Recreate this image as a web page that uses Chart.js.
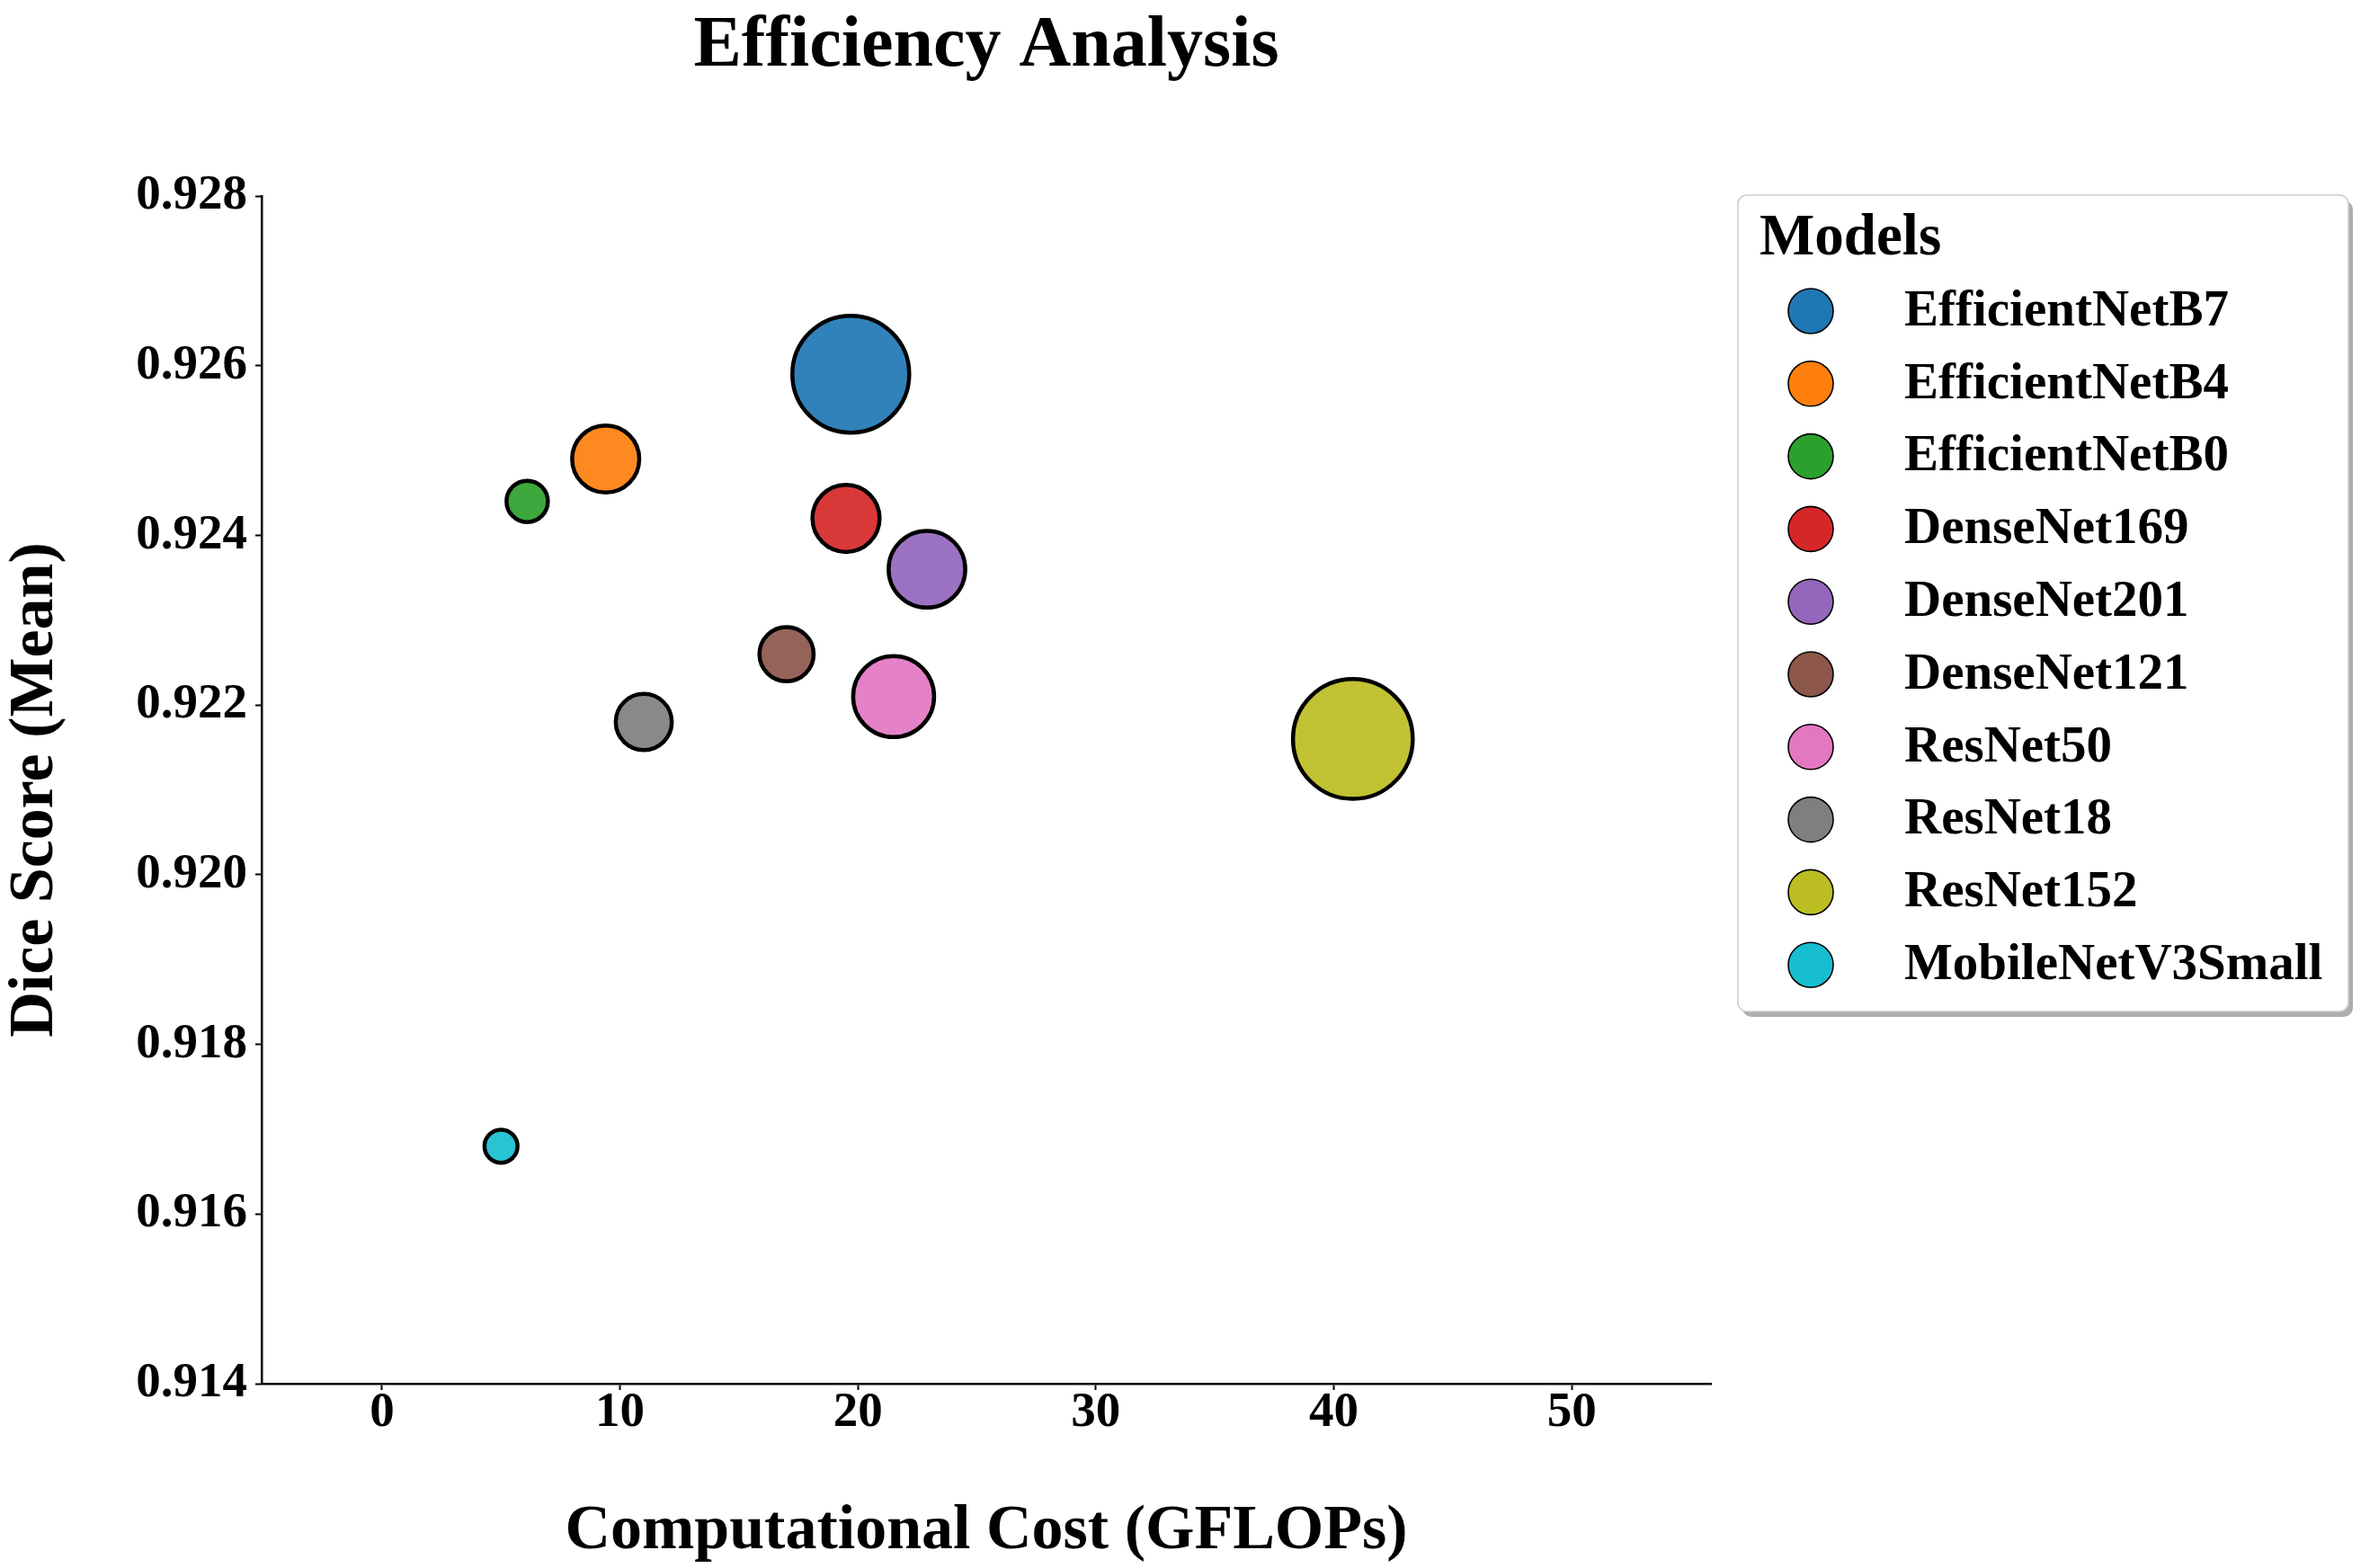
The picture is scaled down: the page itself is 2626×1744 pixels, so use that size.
<!DOCTYPE html>
<html>
<head>
<meta charset="utf-8">
<title>Efficiency Analysis</title>
<script src="https://cdn.jsdelivr.net/npm/chart.js@4.4.1/dist/chart.umd.min.js"></script>
<style>
  html, body { margin: 0; padding: 0; background: #fff; }
  canvas { display: block; }
</style>
</head>
<body>
<canvas id="efficiencyChart" width="2626" height="1744"></canvas>
<script>
// values
const models = [
  'EfficientNetB7', 'EfficientNetB4', 'EfficientNetB0', 'DenseNet169', 'DenseNet201',
  'DenseNet121', 'ResNet50', 'ResNet18', 'ResNet152', 'MobileNetV3Small'
];
const gflops = [19.7, 9.4, 6.1, 19.5, 22.9, 17.0, 21.5, 11.0, 40.8, 5.0];
const diceMean = [0.9259, 0.9249, 0.9244, 0.9242, 0.9236, 0.9226, 0.9221, 0.9218, 0.9216, 0.9168];
// relative bubble area
const bubbleSize = [100, 33, 12.5, 33, 43, 21.5, 48, 23, 105, 8];

const xTicks = [0, 10, 20, 30, 40, 50];
const yTicks = [0.914, 0.916, 0.918, 0.920, 0.922, 0.924, 0.926, 0.928];

// matplotlib tab10
const palette = [
  '#1f77b4', '#ff7f0e', '#2ca02c', '#d62728', '#9467bd',
  '#8c564b', '#e377c2', '#7f7f7f', '#bcbd22', '#17becf'
];

const FONT = "'Liberation Serif', 'Times New Roman', serif";

const withAlpha = (hex, a) => {
  const n = parseInt(hex.slice(1), 16);
  return `rgba(${(n >> 16) & 255}, ${(n >> 8) & 255}, ${n & 255}, ${a})`;
};

document.addEventListener('DOMContentLoaded', () => {
  // framed legend with title and shadow, drawn right of the plot
  const modelsLegend = {
    id: 'modelsLegend',
    afterDraw(chart) {
      const { ctx, chartArea } = chart;
      const x = chartArea.right + 30;
      const y = chartArea.top - 1;
      const w = 679;
      const h = 908;

      ctx.save();
      ctx.fillStyle = 'rgba(0, 0, 0, 0.32)';
      ctx.beginPath();
      ctx.roundRect(x + 5, y + 6, w, h, 10);
      ctx.fill();

      ctx.fillStyle = '#fff';
      ctx.strokeStyle = '#cccccc';
      ctx.lineWidth = 1.5;
      ctx.beginPath();
      ctx.roundRect(x, y, w, h, 10);
      ctx.fill();
      ctx.stroke();

      ctx.fillStyle = '#000';
      ctx.textAlign = 'left';
      ctx.textBaseline = 'alphabetic';
      ctx.font = `bold 65px ${FONT}`;
      ctx.fillText('Models', x + 24, y + 66);

      ctx.font = `bold 57px ${FONT}`;
      ctx.textBaseline = 'middle';
      chart.data.datasets.forEach((ds, i) => {
        const cy = y + 129 + i * 80.8;
        ctx.beginPath();
        ctx.arc(x + 81, cy, 25, 0, Math.PI * 2);
        ctx.fillStyle = palette[i];
        ctx.fill();
        ctx.lineWidth = 1.6;
        ctx.strokeStyle = '#000';
        ctx.stroke();
        ctx.fillStyle = '#000';
        ctx.fillText(ds.label, x + 185, cy + 1);
      });
      ctx.restore();
    }
  };

  const datasets = models.map((name, i) => ({
    label: name,
    data: [{ x: gflops[i], y: diceMean[i], r: 6.5 * Math.sqrt(bubbleSize[i]) }],
    backgroundColor: withAlpha(palette[i], 0.92),
    borderColor: '#000',
    borderWidth: 4.5,
    hoverBorderWidth: 4.5,
    clip: false
  }));

  const tickFont = { family: FONT, size: 55, weight: 'bold', lineHeight: 1 };
  const titleFont = { family: FONT, size: 70, weight: 'bold', lineHeight: 1 };

  const ctx = document.querySelector('#efficiencyChart').getContext('2d');
  new Chart(ctx, {
    type: 'bubble',
    data: { datasets },
    plugins: [modelsLegend],
    options: {
      responsive: false,
      devicePixelRatio: 1,
      animation: false,
      events: [],
      layout: { padding: { left: 0, top: 0, right: 723, bottom: 0 } },
      plugins: {
        legend: { display: false },
        tooltip: { enabled: false },
        title: {
          display: true,
          text: 'Efficiency Analysis',
          color: '#000',
          fullSize: false,
          font: { family: FONT, size: 80, weight: 'bold', lineHeight: 1.2 },
          padding: { top: 4, bottom: 118 }
        }
      },
      scales: {
        x: {
          type: 'linear',
          min: -5.06,
          max: 55.85,
          afterBuildTicks: axis => { axis.ticks = xTicks.map(v => ({ value: v })); },
          afterFit: axis => { axis.height = 205; },
          ticks: {
            color: '#000',
            font: tickFont,
            padding: -2,
            maxRotation: 0,
            callback: value => String(value)
          },
          grid: { drawOnChartArea: false, drawTicks: true, tickLength: 7, tickWidth: 2, tickColor: '#000' },
          border: { display: true, color: '#000', width: 2.5 },
          title: {
            display: true,
            text: 'Computational Cost (GFLOPs)',
            color: '#000',
            font: titleFont,
            padding: { top: 0, bottom: 5 }
          }
        },
        y: {
          type: 'linear',
          min: 0.914,
          max: 0.928,
          afterBuildTicks: axis => { axis.ticks = yTicks.map(v => ({ value: v })); },
          afterFit: axis => { axis.width = 291; },
          ticks: {
            color: '#000',
            font: tickFont,
            padding: 9,
            callback: value => value.toFixed(3)
          },
          grid: { drawOnChartArea: false, drawTicks: true, tickLength: 7, tickWidth: 2, tickColor: '#000' },
          border: { display: true, color: '#000', width: 2.5 },
          title: {
            display: true,
            text: 'Dice Score (Mean)',
            color: '#000',
            font: titleFont,
            padding: { top: 5, bottom: 0 }
          }
        }
      }
    }
  });
});
</script>
</body>
</html>
